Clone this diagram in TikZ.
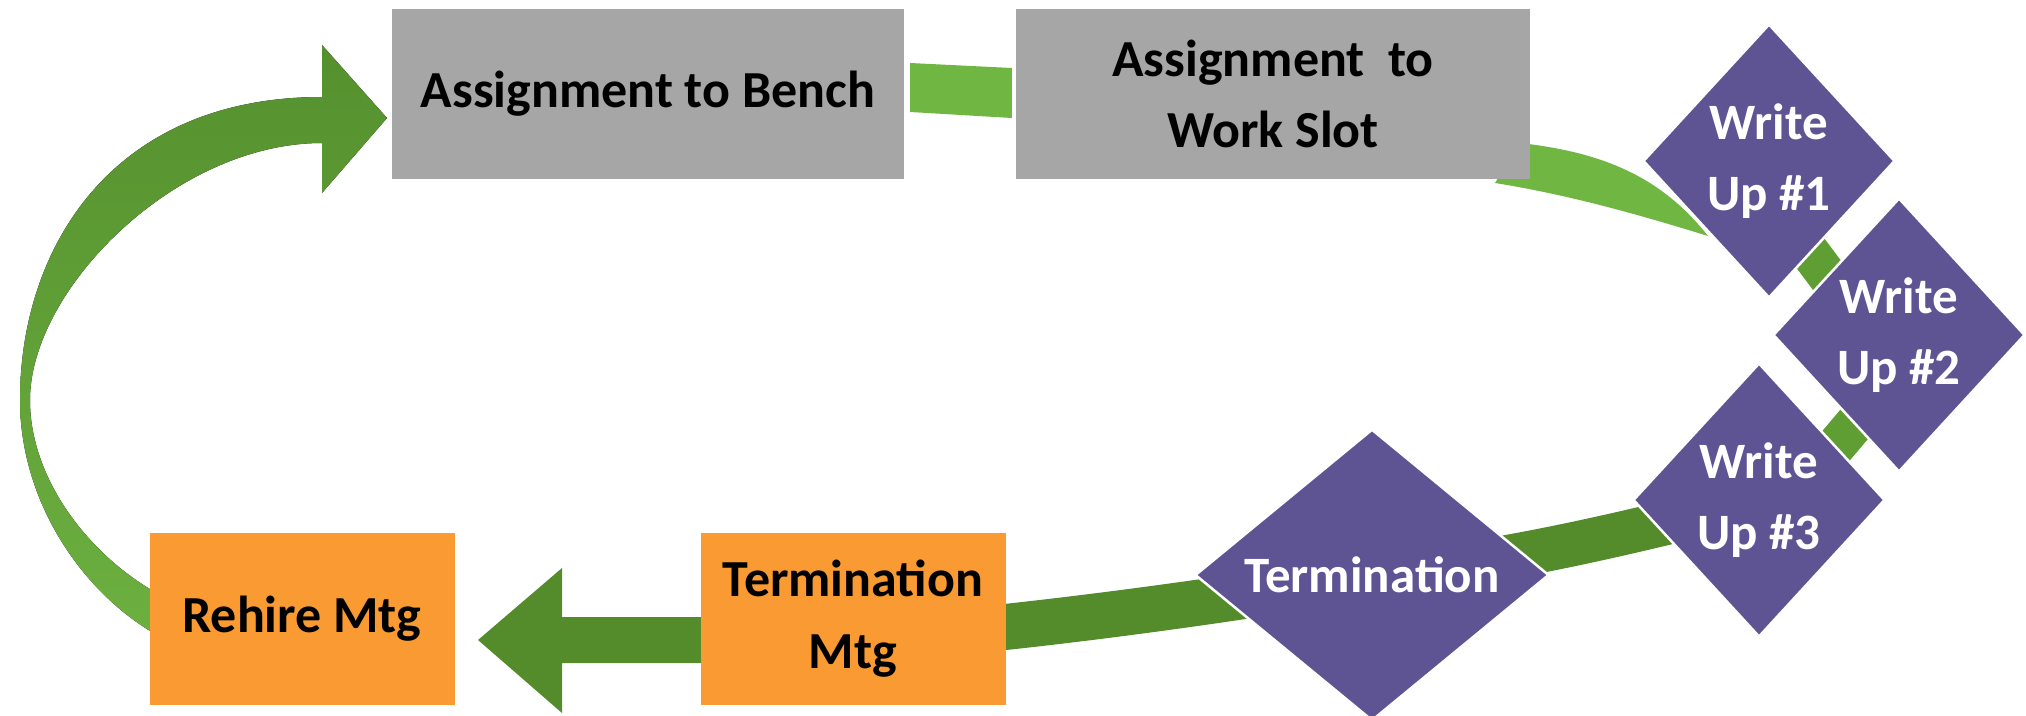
\documentclass[tikz,border=0pt]{standalone}
\usepackage{fontspec}
\setmainfont{Carlito}
\usetikzlibrary{shapes.geometric,calc}
\pgfdeclarelayer{bg}
\pgfsetlayers{bg,main}
\definecolor{boxgray}{HTML}{A6A6A6}
\definecolor{dpurple}{HTML}{5E5494}
\definecolor{borange}{HTML}{F99A32}
\definecolor{dgreen}{HTML}{548C2C}
\definecolor{lgreen}{HTML}{70B642}
\definecolor{mgreen}{HTML}{5E9E33}
\definecolor{arctop}{HTML}{55902E}
\definecolor{arcbot}{HTML}{6CB040}
\tikzset{
  graybox/.style={rectangle, fill=boxgray, inner sep=0pt, text=black,
    font=\bfseries\fontsize{52}{71}\selectfont, align=center},
  orangebox/.style={rectangle, fill=borange, inner sep=0pt, text=black,
    font=\bfseries\fontsize{52}{72}\selectfont, align=center,
    minimum width=305, minimum height=172},
  decision/.style={diamond, fill=dpurple, draw=white, line width=2.5pt, inner sep=0pt,
    text=white, font=\bfseries\fontsize{51}{71}\selectfont, align=center},
  writeup/.style={decision, minimum width=252, minimum height=274},
  bandline/.style={line width=#1, line cap=butt},
}
\begin{document}
\begin{tikzpicture}[x=1pt,y=-1pt]
\useasboundingbox (0,0) rectangle (2026,715);

% nodes
\node[graybox, minimum width=512, minimum height=170] (bench) at (648,94) {Assignment to Bench};
\node[graybox, minimum width=514, minimum height=170] (slot) at (1273,94) {Assignment\ \ to\\Work Slot};
\node[writeup] (wu1) at (1769,161) {Write\\Up \#1};
\node[writeup] (wu2) at (1899,335) {Write\\Up \#2};
\node[writeup] (wu3) at (1759,500) {Write\\Up \#3};
\node[decision, minimum width=354, minimum height=274] (term) at (1372,575) {Termination};
\node[orangebox] (tmtg) at (853,619) {Termination\\Mtg};
\node[orangebox] (rehire) at (302,619) {Rehire Mtg};

\begin{pgfonlayer}{bg}
  % bench -> work slot
  \fill[lgreen] ($(bench.east)+(6,-31)$) -- ($(slot.west)+(-4,-26)$)
     -- ($(slot.west)+(-4,24)$) -- ($(bench.east)+(6,18)$) -- cycle;
  % work slot -> write up 1
  \coordinate (w1tip) at (1708,236);
  \fill[lgreen] (1520,143) .. controls (1600,152) and (1660,175) .. (w1tip)
     .. controls (1640,215) and (1570,195) .. (1495,183) -- cycle;
  % write up 1 -> 2, 2 -> 3
  \draw[mgreen, bandline=40] ($(wu1.center)+(-14,18)$) -- ($(wu2.center)+(-14,18)$);
  \draw[mgreen, bandline=40] ($(wu2.center)+(14,20)$) -- ($(wu3.center)+(14,20)$);
  % write up 3 -> termination
  \draw[dgreen, bandline=44] (wu3.center) .. controls (1640,530) and (1500,565) .. (term.center);
  % termination -> termination mtg
  \draw[dgreen, bandline=46] (term.center) .. controls (1250,597) and (1100,617) .. ($(tmtg.east)+(-10,9)$);
  % termination mtg -> rehire mtg (block arrow)
  \fill[dgreen] ($(tmtg.west)+(5,-2)$) -- (562,617) -- (562,568) -- (478,640)
     -- (562,713) -- (562,663) -- ($(tmtg.west)+(5,44)$) -- cycle;
  % rehire mtg -> bench (curved arrow)
  \coordinate (headtip) at (387,118);
  \fill[top color=arctop, bottom color=arcbot]
     (155,592) .. controls (90,555) and (30,480) .. (30,400)
     .. controls (30,290) and (175,143) .. (322,143)
     -- (322,193) -- (headtip) -- (322,45) -- (322,97)
     .. controls (110,97) and (20,250) .. (20,400)
     .. controls (20,500) and (80,590) .. (155,634) -- cycle;
\end{pgfonlayer}
\end{tikzpicture}
\end{document}
